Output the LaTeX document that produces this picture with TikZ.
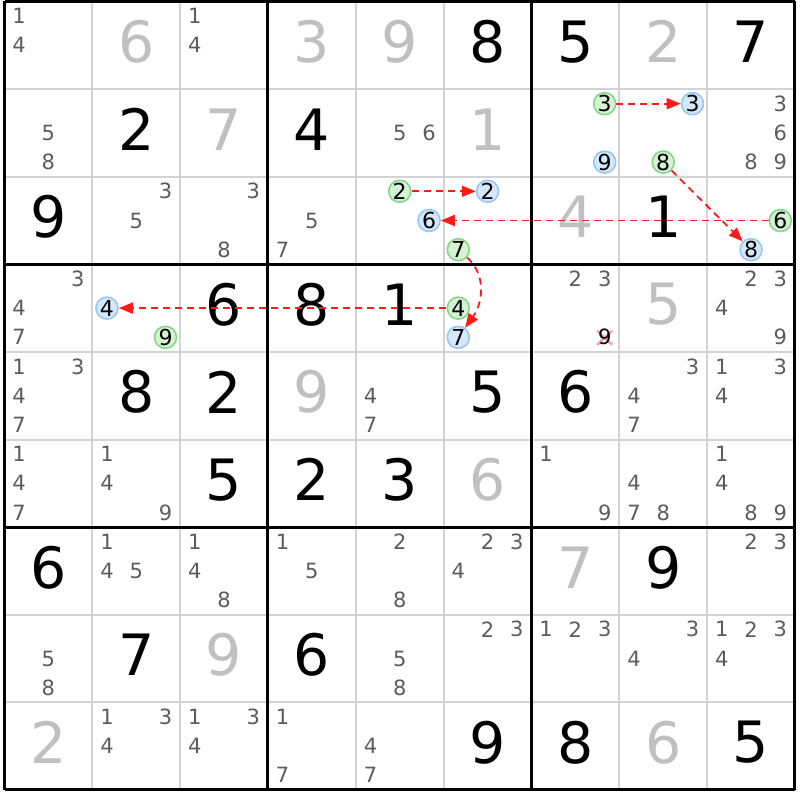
\documentclass[tikz,border=0pt]{standalone}
\usepackage{fontspec}
\setmainfont{DejaVu Sans}
\usetikzlibrary{arrows.meta}
\definecolor{candgray}{HTML}{5C5C5C}
\definecolor{solvedgray}{HTML}{C0C0C0}
\definecolor{gridgray}{HTML}{D3D3D3}
\definecolor{greenfill}{HTML}{D5F2D5}
\definecolor{greenedge}{HTML}{86D686}
\definecolor{bluefill}{HTML}{D5E8FB}
\definecolor{blueedge}{HTML}{96C8F4}
\definecolor{linkred}{HTML}{FF1A1A}
\definecolor{crosspink}{HTML}{F4A0B0}
\def\cw{87.83}
\def\ch{87.6}
\def\ox{4.5}
\def\oy{1.5}
\newcommand\SGiven[3]{\node[given] (g#1#2) at ({\ox+(#2-0.5)*\cw},{\oy+(#1-0.5)*\ch-3.5}) {#3};}
\newcommand\SSolved[3]{\node[solved] (g#1#2) at ({\ox+(#2-0.5)*\cw},{\oy+(#1-0.5)*\ch-3.5}) {#3};}
\newcommand\SCands[3]{\foreach \d in {#3}{%
  \pgfmathsetmacro\cx{\ox+(#2-1)*\cw+(mod(\d-1,3)+0.5)*\cw/3}%
  \pgfmathsetmacro\cy{\oy+(#1-1)*\ch+(floor((\d-1)/3)+0.5)*\ch/3}%
  \node[cand] (k#1#2\d) at (\cx,\cy) {\d};}}
\newcommand\SMark[4]{%
  \pgfmathsetmacro\cx{\ox+(#3-1)*\cw+(mod(#4-1,3)+0.5)*\cw/3}%
  \pgfmathsetmacro\cy{\oy+(#2-1)*\ch+(floor((#4-1)/3)+0.5)*\ch/3}%
  \node[#1] (m#2#3#4) at (\cx,\cy) {#4};}
\newcommand\SCross[3]{%
  \pgfmathsetmacro\cx{\ox+(#2-1)*\cw+(mod(#3-1,3)+0.5)*\cw/3}%
  \pgfmathsetmacro\cy{\oy+(#1-1)*\ch+(floor((#3-1)/3)+0.5)*\ch/3}%
  \draw[crossline] (\cx-7.5,\cy-6.5) -- (\cx+7.5,\cy+7.5) (\cx-7.5,\cy+7.5) -- (\cx+7.5,\cy-6.5);
  \node[elim] (x#1#2#3) at (\cx,\cy) {#3};}
\begin{document}
\begin{tikzpicture}[x=1pt,y=-1pt,
  given/.style={text=black, font=\fontsize{57}{57}\selectfont, inner sep=0pt},
  solved/.style={given, text=solvedgray},
  cand/.style={text=candgray, font=\fontsize{21}{21}\selectfont, inner sep=0pt},
  gcirc/.style={circle, draw=greenedge, fill=greenfill, line width=1.6pt, minimum size=22pt, inner sep=0pt, text=black, font=\fontsize{22}{22}\selectfont},
  bcirc/.style={gcirc, draw=blueedge, fill=bluefill},
  elim/.style={text=black, font=\fontsize{21}{21}\selectfont, inner sep=0pt},
  crossline/.style={draw=crosspink, line width=2.5pt},
  thingrid/.style={draw=gridgray, line width=2pt},
  thickgrid/.style={draw=black, line width=3pt},
  link/.style={draw=linkred, line width=1.8pt, dash pattern=on 7pt off 5pt, -{Triangle[length=14pt,width=11pt,fill=linkred]}}]
\fill[white] (0,0) rectangle (800,800);
\useasboundingbox (0,0) rectangle (800,800);
\foreach \i in {1,...,8}{
  \draw[thingrid] ({\ox+\i*\cw},\oy) -- ({\ox+\i*\cw},{\oy+9*\ch});
  \draw[thingrid] (\ox,{\oy+\i*\ch}) -- ({\ox+9*\cw},{\oy+\i*\ch});
}
\foreach \i in {0,3,6,9}{
  \draw[thickgrid] ({\ox+\i*\cw},\oy) -- ({\ox+\i*\cw},{\oy+9*\ch});
  \draw[thickgrid] (\ox,{\oy+\i*\ch}) -- ({\ox+9*\cw},{\oy+\i*\ch});
}
% row 1
\SCands{1}{1}{1,4} \SSolved{1}{2}{6} \SCands{1}{3}{1,4} \SSolved{1}{4}{3} \SSolved{1}{5}{9} \SGiven{1}{6}{8} \SGiven{1}{7}{5} \SSolved{1}{8}{2} \SGiven{1}{9}{7}
% row 2
\SCands{2}{1}{5,8} \SGiven{2}{2}{2} \SSolved{2}{3}{7} \SGiven{2}{4}{4} \SCands{2}{5}{5,6} \SSolved{2}{6}{1} \SMark{gcirc}{2}{7}{3} \SMark{bcirc}{2}{7}{9} \SMark{bcirc}{2}{8}{3} \SMark{gcirc}{2}{8}{8} \SCands{2}{9}{3,6,8,9}
% row 3
\SGiven{3}{1}{9} \SCands{3}{2}{3,5} \SCands{3}{3}{3,8} \SCands{3}{4}{5,7} \SMark{gcirc}{3}{5}{2} \SMark{bcirc}{3}{5}{6} \SMark{bcirc}{3}{6}{2} \SMark{gcirc}{3}{6}{7} \SSolved{3}{7}{4} \SGiven{3}{8}{1} \SMark{gcirc}{3}{9}{6} \SMark{bcirc}{3}{9}{8}
% row 4
\SCands{4}{1}{3,4,7} \SMark{bcirc}{4}{2}{4} \SMark{gcirc}{4}{2}{9} \SGiven{4}{3}{6} \SGiven{4}{4}{8} \SGiven{4}{5}{1} \SMark{gcirc}{4}{6}{4} \SMark{bcirc}{4}{6}{7} \SCands{4}{7}{2,3} \SCross{4}{7}{9} \SSolved{4}{8}{5} \SCands{4}{9}{2,3,4,9}
% row 5
\SCands{5}{1}{1,3,4,7} \SGiven{5}{2}{8} \SGiven{5}{3}{2} \SSolved{5}{4}{9} \SCands{5}{5}{4,7} \SGiven{5}{6}{5} \SGiven{5}{7}{6} \SCands{5}{8}{3,4,7} \SCands{5}{9}{1,3,4}
% row 6
\SCands{6}{1}{1,4,7} \SCands{6}{2}{1,4,9} \SGiven{6}{3}{5} \SGiven{6}{4}{2} \SGiven{6}{5}{3} \SSolved{6}{6}{6} \SCands{6}{7}{1,9} \SCands{6}{8}{4,7,8} \SCands{6}{9}{1,4,8,9}
% row 7
\SGiven{7}{1}{6} \SCands{7}{2}{1,4,5} \SCands{7}{3}{1,4,8} \SCands{7}{4}{1,5} \SCands{7}{5}{2,8} \SCands{7}{6}{2,3,4} \SSolved{7}{7}{7} \SGiven{7}{8}{9} \SCands{7}{9}{2,3}
% row 8
\SCands{8}{1}{5,8} \SGiven{8}{2}{7} \SSolved{8}{3}{9} \SGiven{8}{4}{6} \SCands{8}{5}{5,8} \SCands{8}{6}{2,3} \SCands{8}{7}{1,2,3} \SCands{8}{8}{3,4} \SCands{8}{9}{1,2,3,4}
% row 9
\SSolved{9}{1}{2} \SCands{9}{2}{1,3,4} \SCands{9}{3}{1,3,4} \SCands{9}{4}{1,7} \SCands{9}{5}{4,7} \SGiven{9}{6}{9} \SGiven{9}{7}{8} \SSolved{9}{8}{6} \SGiven{9}{9}{5}
% links
\draw[link] (m273) -- (m283);
\draw[link] (m288) -- (m398);
\draw[link] (m396) -- (m356);
\draw[link] (m352) -- (m362);
\draw[link] (m367) .. controls +(28,25) and +(25,-35) .. (m467);
\draw[link] (m464) -- (m424);
\end{tikzpicture}
\end{document}
